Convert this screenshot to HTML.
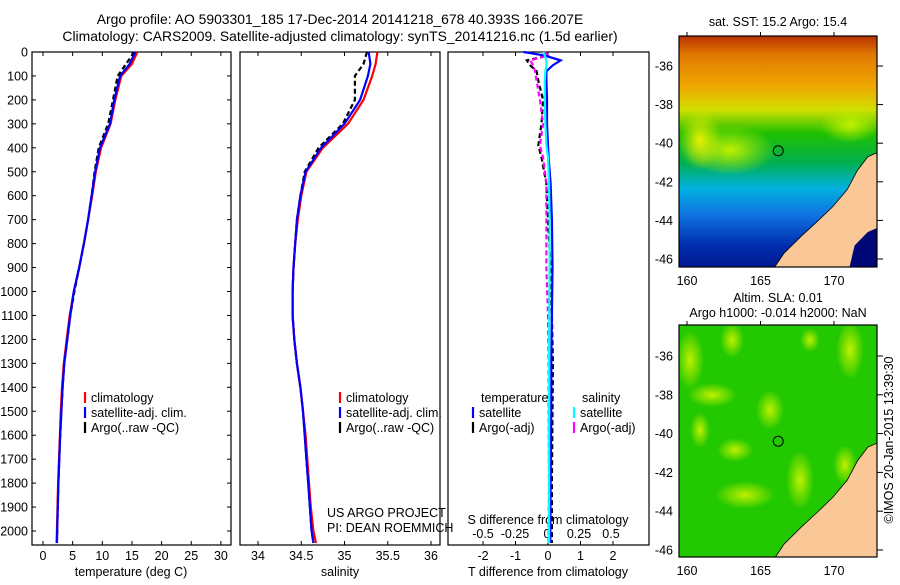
<!DOCTYPE html>
<html><head><meta charset="utf-8">
<style>
body{margin:0;background:#fff;width:900px;height:580px;overflow:hidden;font-family:"Liberation Sans",sans-serif}
svg text{font-family:"Liberation Sans",sans-serif;font-size:12.5px;fill:#000}
</style></head>
<body>
<svg id="c" width="900" height="580" xmlns="http://www.w3.org/2000/svg">
<defs>
<linearGradient id="sstg" x1="0" y1="0" x2="0" y2="1">
<stop offset="0" stop-color="#b83000"/><stop offset="0.08" stop-color="#e07800"/>
<stop offset="0.22" stop-color="#f0a800"/><stop offset="0.32" stop-color="#d0e000"/>
<stop offset="0.42" stop-color="#20c000"/><stop offset="0.55" stop-color="#00b050"/>
<stop offset="0.66" stop-color="#00b0e0"/><stop offset="0.78" stop-color="#1070e0"/>
<stop offset="0.9" stop-color="#0030b0"/><stop offset="1" stop-color="#001890"/>
</linearGradient>
<radialGradient id="blob"><stop offset="0" stop-color="#c0f000"/><stop offset="1" stop-color="#c0f000" stop-opacity="0"/></radialGradient>
<radialGradient id="blob2"><stop offset="0" stop-color="#e8f000"/><stop offset="1" stop-color="#e8f000" stop-opacity="0"/></radialGradient>
<clipPath id="m1c"><rect x="679" y="36" width="198" height="231"/></clipPath>
<clipPath id="m2c"><rect x="679" y="325" width="198" height="232"/></clipPath>
</defs>
<g id="root"></g>
</svg>
<script>
// ---- data ----
const depths = [0,50,100,200,300,400,500,600,700,800,900,1000,1100,1200,1300,1400,1500,1600,1700,1800,1900,2000,2050];
const tempClim = [15.9,15.0,13.2,12.2,11.4,9.8,8.9,8.3,7.6,6.9,6.1,5.2,4.5,4.0,3.5,3.2,3.0,2.85,2.7,2.55,2.45,2.35,2.3];
const tempSat  = [15.6,14.6,13.0,12.0,11.3,9.6,8.8,8.2,7.6,6.9,6.1,5.2,4.6,4.1,3.6,3.3,3.1,2.9,2.75,2.6,2.5,2.4,2.35];
const tempArgo = [15.4,14.0,12.6,11.8,11.0,9.4,8.7,8.2,7.6,6.9,6.1,5.3,4.6,4.1,3.6,3.3,3.1,2.9,2.75,2.6,2.5,2.4,2.35];
const salClim  = [35.38,35.36,35.32,35.22,35.04,34.75,34.56,34.50,34.46,34.43,34.41,34.40,34.40,34.42,34.45,34.49,34.52,34.55,34.57,34.59,34.61,34.64,34.67];
const salSat   = [35.28,35.30,35.27,35.18,35.00,34.73,34.55,34.49,34.45,34.43,34.41,34.40,34.40,34.42,34.45,34.49,34.52,34.54,34.56,34.58,34.60,34.62,34.64];
const salArgo  = [35.26,35.22,35.12,35.12,34.98,34.70,34.54,34.49,34.45,34.43,34.41,34.40,34.40,34.42,34.45,34.49,34.52,34.54,34.56,34.58,34.60,34.62,34.64];
const diffDepths = [0,15,35,55,80,120,200,300,390,440,550,700,900,1100,1300,1500,1800,2050];
const dSatT  = [-0.75,-0.1,0.39,0.15,-0.05,-0.05,-0.03,-0.03,0.0,0.02,0.08,0.12,0.14,0.12,0.1,0.1,0.08,0.07];
const dArgoT = [-0.1,0.0,-0.65,-0.55,-0.35,-0.3,-0.15,-0.2,-0.3,-0.2,-0.05,0.0,0.08,0.12,0.15,0.14,0.12,0.12];
const dSatS  = [-0.15,-0.1,-0.05,-0.05,-0.08,-0.1,-0.1,-0.08,-0.05,0.0,0.03,0.05,0.05,0.04,0.03,0.03,0.03,0.03];
const dArgoS = [-0.1,0.0,-0.55,-0.45,-0.4,-0.35,-0.25,-0.15,-0.25,-0.15,-0.05,-0.05,-0.05,0.0,0.02,0.02,0.03,0.02];
const depthTicks = [0,100,200,300,400,500,600,700,800,900,1000,1100,1200,1300,1400,1500,1600,1700,1800,1900,2000];
const tempTicks = [0,5,10,15,20,25,30];
const salTicks = [34,34.5,35,35.5,36];
const tdTicks = [-2,-1,0,1,2];
const sdTicks = [-0.5,-0.25,0,0.25,0.5];
const latTicks = [-36,-38,-40,-42,-44,-46];
const lonTicks = [160,165,170];

const NS='http://www.w3.org/2000/svg';
const root=document.getElementById('root');
function el(tag,attrs,parent,txt){const e=document.createElementNS(NS,tag);for(const k in attrs)e.setAttribute(k,attrs[k]);if(txt!==undefined)e.textContent=txt;(parent||root).appendChild(e);return e;}
const yD = d => 52 + d*0.2395;
const xT = t => 43 + t*5.93;
const xS = s => 258 + (s-34)*86.5;
const xTD = v => 548 + v*32.5;
const xSD = v => 547 + v*128;

function frame(name,x0,x1){
  const g=el('g',{});
  
  
  el('rect',{x:x0,y:52,width:x1-x0,height:493,fill:'none',stroke:'#000','stroke-width':1.2},g);
  return g;
}
function line(g,xs,ys,fx,color,name,dash,w){
  const p=xs.map((v,i)=>fx(v).toFixed(1)+','+yD(ys[i]).toFixed(1)).join(' ');
  const e=el('polyline',{points:p,fill:'none',stroke:color,'stroke-width':w||2.2},g);
  if(dash)e.setAttribute('stroke-dasharray',dash);
  
  
}

// titles
const t1=el('text',{x:340,y:24,'text-anchor':'middle','style':'font-size:13.9px'},root,'Argo profile: AO 5903301_185 17-Dec-2014 20141218_678 40.393S 166.207E');


const t2=el('text',{x:340,y:41,'text-anchor':'middle','style':'font-size:13.9px'},root,'Climatology: CARS2009. Satellite-adjusted climatology: synTS_20141216.nc (1.5d earlier)');



// panel 1 temperature
const g1=frame('temperature-panel',32,231);
depthTicks.forEach(d=>{
  el('line',{x1:32,x2:36,y1:yD(d),y2:yD(d),stroke:'#000'},g1);
  el('line',{x1:231,x2:227,y1:yD(d),y2:yD(d),stroke:'#000'},g1);
  const t=el('text',{x:28,y:yD(d)+4.5,'text-anchor':'end'},g1,String(d));
  
  
});
tempTicks.forEach(v=>{
  el('line',{x1:xT(v),x2:xT(v),y1:545,y2:541,stroke:'#000'},g1);
  el('line',{x1:xT(v),x2:xT(v),y1:52,y2:56,stroke:'#000'},g1);
  el('text',{x:xT(v),y:560,'text-anchor':'middle'},g1,String(v));
});
el('text',{x:131,y:576,'text-anchor':'middle'},g1,'temperature (deg C)');
line(g1,tempArgo,depths,xT,'#000','argo-temp-line','5,3');
line(g1,tempClim,depths,xT,'#f00','clim-temp-line');
line(g1,tempSat,depths,xT,'#00f','sat-temp-line');
function legend(g,x,y,items){
  items.forEach((it,i)=>{
    el('line',{x1:x,x2:x,y1:y+i*15-10,y2:y+i*15+1,stroke:it[0],'stroke-width':2.2},g);
    el('text',{x:x+6,y:y+i*15},g,it[1]);
  });
}
legend(g1,85,402,[['#f00','climatology'],['#00f','satellite-adj. clim.'],['#000','Argo(..raw -QC)']]);

// panel 2 salinity
const g2=frame('salinity-panel',240,440);
salTicks.forEach(v=>{
  el('line',{x1:xS(v),x2:xS(v),y1:545,y2:541,stroke:'#000'},g2);
  el('line',{x1:xS(v),x2:xS(v),y1:52,y2:56,stroke:'#000'},g2);
  el('text',{x:xS(v),y:560,'text-anchor':'middle'},g2,String(v));
});
el('text',{x:340,y:576,'text-anchor':'middle'},g2,'salinity');
line(g2,salArgo,depths,xS,'#000','argo-sal-line','5,3');
line(g2,salClim,depths,xS,'#f00','clim-sal-line');
line(g2,salSat,depths,xS,'#00f','sat-sal-line');
legend(g2,340,402,[['#f00','climatology'],['#00f','satellite-adj. clim.'],['#000','Argo(..raw -QC)']]);
el('text',{x:327,y:517},g2,'US ARGO PROJECT');
el('text',{x:327,y:532},g2,'PI: DEAN ROEMMICH');

// panel 3 differences
const g3=frame('difference-panel',448,649);
tdTicks.forEach(v=>{
  el('line',{x1:xTD(v),x2:xTD(v),y1:545,y2:541,stroke:'#000'},g3);
  el('line',{x1:xTD(v),x2:xTD(v),y1:52,y2:56,stroke:'#000'},g3);
  el('text',{x:xTD(v),y:560,'text-anchor':'middle'},g3,String(v));
});
sdTicks.forEach(v=>{
  el('text',{x:xSD(v),y:538,'text-anchor':'middle'},g3,String(v));
});
el('text',{x:548,y:524,'text-anchor':'middle'},g3,'S difference from climatology');
el('text',{x:548,y:576,'text-anchor':'middle'},g3,'T difference from climatology');
line(g3,dArgoT,diffDepths,xTD,'#000','argo-tdiff-line','5,3');
line(g3,dArgoS,diffDepths,xTD,'#f0f','argo-sdiff-line','5,3');
line(g3,dSatT,diffDepths,xTD,'#00f','sat-tdiff-line');
line(g3,dSatS,diffDepths,xTD,'#0ff','sat-sdiff-line');
el('text',{x:481,y:402},g3,'temperature');
el('text',{x:582,y:402},g3,'salinity');
legend(g3,473,417,[['#00f','satellite'],['#000','Argo(-adj)']]);
legend(g3,574,417,[['#0ff','satellite'],['#f0f','Argo(-adj)']]);

// maps
const xL = lon => 687 + (lon-160)*14.7;
function land(g,yLat){
  const pts=[[165.8,-46.6],[166.6,-45.7],[167.8,-44.8],[168.8,-44.1],[169.9,-43.3],[170.9,-42.4],[171.6,-41.4],[172.3,-40.7],[172.9,-40.5],[173.2,-40.5],[173.2,-46.6]];
  el('polygon',{points:pts.map(p=>xL(p[0])+','+yLat(p[1])).join(' '),fill:'#f9c896',stroke:'#000','stroke-width':0.8},g);
}
function mapFrame(g,y0,h,yLat){
  el('rect',{x:679,y:y0,width:198,height:h,fill:'none',stroke:'#000','stroke-width':1.2},g);
  latTicks.forEach(v=>{
    el('line',{x1:877,x2:883,y1:yLat(v),y2:yLat(v),stroke:'#000'},g);
    el('text',{x:673,y:yLat(v)+4.5,'text-anchor':'end'},g,String(v));
  });
  lonTicks.forEach(v=>{
    el('line',{x1:xL(v),x2:xL(v),y1:y0,y2:y0-4,stroke:'#000'},g);
    el('text',{x:xL(v),y:y0+h+18,'text-anchor':'middle'},g,String(v));
  });
}
// SST map
const yL1 = lat => 66 + (-36-lat)*19.3;
const m1=el('g',{});


const m1i=el('g',{'clip-path':'url(#m1c)'},m1);
el('rect',{x:679,y:36,width:198,height:231,fill:'url(#sstg)'},m1i);
el('ellipse',{cx:730,cy:150,rx:45,ry:25,fill:'url(#blob)'},m1i);
el('ellipse',{cx:700,cy:140,rx:22,ry:30,fill:'url(#blob2)'},m1i);
el('ellipse',{cx:850,cy:125,rx:30,ry:18,fill:'url(#blob)'},m1i);
land(m1i,yL1);
el('polygon',{points:[[171,-46.6],[171.4,-45.3],[172.3,-44.6],[173.2,-44.3],[173.2,-46.6]].map(p=>xL(p[0])+','+yL1(p[1])).join(' '),fill:'#000878'},m1i);
el('circle',{cx:xL(166.207),cy:yL1(-40.393),r:5,fill:'none',stroke:'#000'},m1);
mapFrame(m1,36,231,yL1);
const st=el('text',{x:778,y:26,'text-anchor':'middle'},m1,'sat. SST: 15.2  Argo: 15.4');



// SLA map
const yL2 = lat => 356 + (-36-lat)*19.4;
const m2=el('g',{});


const m2i=el('g',{'clip-path':'url(#m2c)'},m2);
el('rect',{x:679,y:325,width:198,height:232,fill:'#22c800'},m2i);
[[690,360,14,30],[732,340,12,18],[712,395,25,12],[700,430,10,18],[745,495,30,14],[800,480,14,30],[770,410,14,20],[850,350,14,30],[845,465,12,20],[810,340,10,12],[735,450,18,12]].forEach(b=>{
  el('ellipse',{cx:b[0],cy:b[1],rx:b[2],ry:b[3],fill:'url(#blob)'},m2i);
});
land(m2i,yL2);
el('circle',{cx:xL(166.207),cy:yL2(-40.393),r:5,fill:'none',stroke:'#000'},m2);
mapFrame(m2,325,232,yL2);
el('text',{x:778,y:302,'text-anchor':'middle'},m2,'Altim. SLA: 0.01');
el('text',{x:778,y:317,'text-anchor':'middle'},m2,'Argo h1000: -0.014 h2000: NaN');
const cp=el('text',{x:0,y:0,'text-anchor':'middle',transform:'translate(893,440) rotate(-90)'},root,'©IMOS 20-Jan-2015 13:39:30');


</script>
</body></html>
